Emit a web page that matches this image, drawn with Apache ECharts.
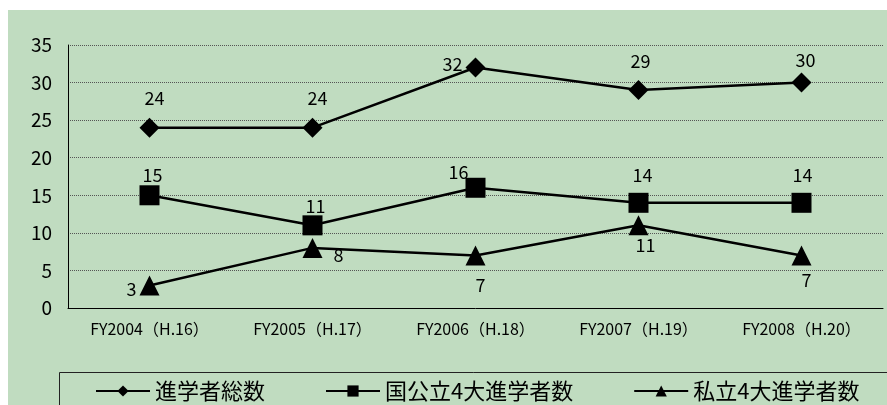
<!DOCTYPE html>
<html>
<head>
<meta charset="utf-8">
<script src="https://cdn.jsdelivr.net/npm/echarts@6/dist/echarts.min.js"></script>
<style>
html,body{margin:0;padding:0;background:#fff;}
#main{width:887px;height:405px;}
</style>
</head>
<body>
<div id="main"></div>
<script>
// 年度
var categories = ['FY2004（H.16）', 'FY2005（H.17）', 'FY2006（H.18）', 'FY2007（H.19）', 'FY2008（H.20）'];
var seriesNames = ['進学者総数', '国公立4大進学者数', '私立4大進学者数'];
var totalValues = [24, 24, 32, 29, 30];
var publicValues = [15, 11, 16, 14, 14];
var privateValues = [3, 8, 7, 11, 7];
var yMin = 0, yMax = 35, yStep = 5;

// ラベル位置 (マーカー中心からのずれ px)
var totalLabelOffset = [[5, -30], [5, -30], [-23, -3], [2, -29], [4, -22]];
var publicLabelOffset = [[3, -20], [3, -19], [-17, -16], [4, -28], [1, -28]];
var privateLabelOffset = [[-18, 4], [26, 7], [5, 30], [7, 20], [5, 25]];

var FONT = 'Noto Sans CJK JP';

function makeData(values, offsets) {
    return values.map(function (v, i) {
        return {value: v, label: {offset: offsets[i]}};
    });
}

function makeSeries(name, values, offsets, symbol) {
    return {
        name: name,
        type: 'line',
        data: makeData(values, offsets),
        symbol: symbol,
        symbolSize: 20,
        itemStyle: {color: '#000'},
        lineStyle: {color: '#000', width: 2.5},
        label: {
            show: true,
            position: 'inside',
            color: '#000',
            fontSize: 18,
            fontFamily: FONT
        }
    };
}

var myChart = echarts.init(document.getElementById('main'));
var option = {
    animation: false,
    backgroundColor: '#fff',
    textStyle: {fontFamily: FONT},
    graphic: [
        {type: 'rect', z: -10, shape: {x: 8, y: 10, width: 890, height: 400}, style: {fill: '#c0dcc0'}},
        {type: 'rect', z: -5, shape: {x: 59.5, y: 372.5, width: 840, height: 40}, style: {fill: 'none', stroke: '#222', lineWidth: 1}}
    ],
    grid: {left: 68, right: 4, top: 45, bottom: 97, containLabel: false},
    legend: {
        data: seriesNames,
        left: 90,
        top: 375,
        itemGap: 60,
        itemWidth: 54,
        itemHeight: 14,
        textStyle: {fontSize: 22, color: '#000', fontFamily: FONT}
    },
    xAxis: {
        type: 'category',
        data: categories,
        boundaryGap: true,
        axisLine: {lineStyle: {color: '#000', width: 1}},
        axisTick: {inside: true, length: 6, lineStyle: {color: '#000'}},
        axisLabel: {color: '#000', fontSize: 16, margin: 13, fontFamily: FONT}
    },
    yAxis: {
        type: 'value',
        min: yMin,
        max: yMax,
        interval: yStep,
        axisLine: {show: true, lineStyle: {color: '#000', width: 1}},
        axisTick: {show: false},
        axisLabel: {color: '#000', fontSize: 19, margin: 16, fontFamily: FONT},
        splitLine: {lineStyle: {color: '#555', type: 'dotted', width: 1}}
    },
    series: [
        makeSeries(seriesNames[0], totalValues, totalLabelOffset, 'diamond'),
        makeSeries(seriesNames[1], publicValues, publicLabelOffset, 'rect'),
        makeSeries(seriesNames[2], privateValues, privateLabelOffset, 'triangle')
    ]
};
myChart.setOption(option);
</script>
</body>
</html>
